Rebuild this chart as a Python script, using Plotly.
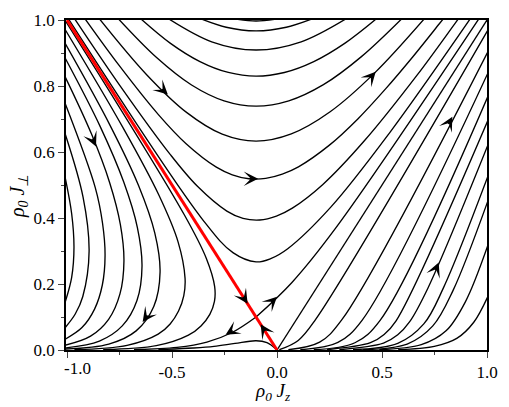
import plotly.graph_objects as go

# ---------------- data (rho0*Jz, rho0*Jperp) ----------------
# U-shaped flow lines above the separatrix (minimum near Jz = -0.1)
U_X = [
    [-1.000, -0.348, -0.210, -0.100, -0.030, 0.051, 0.256, 0.537, 0.927],
    [-0.982, -0.749, -0.508, -0.379, -0.239, -0.162, -0.082, -0.003, 0.073, 0.217, 0.416, 0.667, 0.848, 0.871],
    [-0.934, -0.753, -0.566, -0.433, -0.289, -0.213, -0.134, -0.054, 0.025, 0.102, 0.248, 0.386, 0.518, 0.646, 0.771, 0.800],
    [-0.854, -0.622, -0.431, -0.261, -0.100, 0.068, 0.253, 0.464, 0.710],
    [-0.765, -0.575, -0.407, -0.252, -0.100, 0.056, 0.221, 0.402, 0.604],
    [-0.660, -0.509, -0.367, -0.232, -0.100, 0.035, 0.175, 0.324, 0.485],
    [-0.532, -0.311, -0.100, 0.115, 0.345],
    [-0.388, -0.242, -0.100, 0.044, 0.194],
    [-0.260, -0.100, 0.062],
]
U_Y = [
    [1.010, 0.390, 0.295, 0.267, 0.277, 0.307, 0.433, 0.659, 1.010],
    [1.021, 0.802, 0.592, 0.496, 0.421, 0.399, 0.394, 0.406, 0.430, 0.501, 0.634, 0.833, 0.990, 1.010],
    [1.021, 0.863, 0.714, 0.625, 0.554, 0.531, 0.519, 0.520, 0.533, 0.555, 0.620, 0.701, 0.792, 0.888, 0.987, 1.010],
    [1.010, 0.835, 0.720, 0.654, 0.633, 0.655, 0.722, 0.839, 1.010],
    [1.010, 0.887, 0.803, 0.755, 0.739, 0.755, 0.804, 0.889, 1.010],
    [1.010, 0.930, 0.874, 0.841, 0.830, 0.841, 0.874, 0.930, 1.010],
    [1.010, 0.934, 0.909, 0.934, 1.010],
    [1.010, 0.978, 0.967, 0.978, 1.010],
    [1.010, 0.997, 1.010],
]

# flow lines left of the separatrix
L_X = [
    [-1.010, -0.978, -0.967, -0.978, -1.010],
    [-1.010, -0.924, -0.895, -0.925, -0.961, -1.010],
    [-1.010, -0.866, -0.831, -0.819, -0.832, -0.869, -0.929, -1.011],
    [-1.010, -0.884, -0.797, -0.746, -0.729, -0.748, -0.802, -0.888, -1.011],
    [-1.011, -0.842, -0.730, -0.665, -0.643, -0.667, -0.737, -0.846, -1.011],
    [-1.010, -0.797, -0.660, -0.582, -0.557, -0.587, -0.671, -0.801, -1.010],
    [-1.010, -0.733, -0.564, -0.471, -0.438, -0.444, -0.469, -0.509, -0.566, -0.714, -0.965],
    [-1.010, -0.441, -0.337, -0.297, -0.298, -0.320, -0.362, -0.422, -0.575, -0.828],
]
L_Y = [
    [0.526, 0.413, 0.311, 0.220, 0.143],
    [0.657, 0.464, 0.299, 0.162, 0.109, 0.067],
    [0.749, 0.493, 0.384, 0.286, 0.197, 0.124, 0.068, 0.032],
    [0.829, 0.655, 0.507, 0.380, 0.270, 0.170, 0.093, 0.042, 0.014],
    [0.887, 0.677, 0.509, 0.371, 0.254, 0.150, 0.073, 0.027, 0.006],
    [0.930, 0.683, 0.499, 0.354, 0.236, 0.132, 0.058, 0.018, 0.003],
    [0.972, 0.673, 0.471, 0.327, 0.217, 0.165, 0.118, 0.079, 0.048, 0.014, 0.001],
    [1.000, 0.409, 0.278, 0.192, 0.147, 0.108, 0.073, 0.045, 0.013, 0.001],
]

# flow lines right of the Jz = Jperp line (leave the axis, run to the right edge)
R_X = [
    [0.011, 0.101, 0.184, 1.010],
    [0.054, 0.203, 0.308, 1.010],
    [0.111, 0.290, 0.405, 1.010],
    [0.175, 0.371, 0.491, 1.010],
    [0.238, 0.445, 0.510, 0.567, 1.010],
    [0.297, 0.507, 0.575, 0.631, 0.719, 1.010],
    [0.362, 0.575, 0.699, 0.793, 1.010],
    [0.410, 0.620, 0.742, 0.838, 1.010],
    [0.487, 0.687, 0.805, 0.897, 1.010],
    [0.577, 0.749, 0.856, 0.937, 1.010],
]
R_Y = [
    [0.001, 0.029, 0.093, 0.976],
    [0.001, 0.024, 0.091, 0.911],
    [0.001, 0.023, 0.090, 0.847],
    [0.001, 0.022, 0.090, 0.777],
    [0.001, 0.022, 0.047, 0.088, 0.704],
    [0.001, 0.021, 0.046, 0.085, 0.188, 0.630],
    [0.001, 0.020, 0.079, 0.189, 0.536],
    [0.001, 0.018, 0.073, 0.180, 0.462],
    [0.001, 0.016, 0.058, 0.146, 0.328],
    [0.001, 0.011, 0.035, 0.084, 0.170],
]

# special lines: Jperp = Jz, the two unstable branches of the saddle, the small bump
DIAG_X = [0.0, 1.0]
DIAG_Y = [0.0, 1.0]
UNST_UP_X = [-0.100, 0.070, 0.280, 0.969]
UNST_UP_Y = [0.100, 0.204, 0.370, 1.011]
UNST_DN_X = [-0.100, -0.214, -0.334, -0.476, -0.681]
UNST_DN_Y = [0.100, 0.053, 0.024, 0.008, 0.001]
BUMP_X = [-0.002, -0.048, -0.100, -0.200, -0.300, -0.400, -0.565]
BUMP_Y = [0.001, 0.022, 0.028, 0.020, 0.011, 0.006, 0.001]

# separatrix (red)
SEP_X = [-1.0, 0.0]
SEP_Y = [1.0, 0.0]

# arrowheads: tip position and flow direction
ARROW_X = [-0.862, -0.520, -0.090, 0.470, 0.835, 0.770, -0.640, -0.140, -0.078, -0.245, 0.000]
ARROW_Y = [0.617, 0.774, 0.519, 0.843, 0.707, 0.265, 0.085, 0.140, 0.078, 0.046, 0.161]
ARROW_DX = [0.586, 0.857, 1.000, 0.820, 0.650, 0.550, -0.750, 0.707, -0.707, -0.930, 0.853]
ARROW_DY = [-0.810, -0.516, 0.000, 0.570, 0.760, 0.835, -0.660, -0.707, 0.707, -0.360, 0.522]

X_TICKS = [-1.0, -0.5, 0.0, 0.5, 1.0]
X_TICKTEXT = ["-1.0", "-0.5", "0.0", "0.5", "1.0"]
Y_TICKS = [0.0, 0.2, 0.4, 0.6, 0.8, 1.0]
Y_TICKTEXT = ["0.0", "0.2", "0.4", "0.6", "0.8", "1.0"]
X_TITLE = "<i>ρ</i><sub><i>0</i></sub><i> J</i><sub><i>z</i></sub>"
Y_TITLE = "<i>ρ</i><sub><i>0</i></sub><i> J</i><sub><i>⊥</i></sub>"

# ---------------- figure ----------------
SERIF = "Liberation Serif"
W, H = 509, 407
ML, MR, MT, MB = 66, 22, 20, 57
XR = [-1.005, 1.0]
YR = [0.0, 1.0]
PX_PER_X = (W - ML - MR) / (XR[1] - XR[0])
PX_PER_Y = (H - MT - MB) / (YR[1] - YR[0])

fig = go.Figure()
black = dict(color="black", width=1.35, shape="spline", smoothing=1.0)

def add_line(xs, ys, line):
    fig.add_trace(go.Scatter(x=xs, y=ys, mode="lines", line=line, showlegend=False, hoverinfo="skip"))

for xs, ys in zip(U_X, U_Y):
    add_line(xs, ys, black)
for xs, ys in zip(L_X, L_Y):
    add_line(xs, ys, black)
for xs, ys in zip(R_X, R_Y):
    add_line(xs, ys, black)
add_line(DIAG_X, DIAG_Y, dict(color="black", width=1.35))
add_line(UNST_UP_X, UNST_UP_Y, black)
add_line(UNST_DN_X, UNST_DN_Y, black)
add_line(BUMP_X, BUMP_Y, black)
add_line(SEP_X, SEP_Y, dict(color="#ff0000", width=3))

for x, y, dx, dy in zip(ARROW_X, ARROW_Y, ARROW_DX, ARROW_DY):
    sx, sy = dx * PX_PER_X, -dy * PX_PER_Y
    n = (sx * sx + sy * sy) ** 0.5
    sx, sy = sx / n, sy / n
    fig.add_annotation(x=x, y=y, xref="x", yref="y", ax=-10 * sx, ay=-10 * sy,
                       showarrow=True, arrowhead=3, arrowsize=1.85, arrowwidth=1.3,
                       arrowcolor="black", text="")

fig.update_layout(
    width=W, height=H, margin=dict(l=ML, r=MR, t=MT, b=MB),
    plot_bgcolor="white", paper_bgcolor="white",
    font=dict(family=SERIF, size=17, color="black"),
)
tickfont = dict(family=SERIF, size=17, color="black")
# the "-1.0" label sits a little to the right of its tick in the reference
fig.add_annotation(x=X_TICKS[0], y=0, xref="x", yref="paper", yanchor="top", xshift=10, yshift=-7,
                   text=X_TICKTEXT[0], showarrow=False, font=tickfont)
# axis titles
fig.add_annotation(x=0.5, y=0, xref="paper", yref="paper", xanchor="center", yanchor="middle",
                   xshift=-4, yshift=-42, text=X_TITLE, showarrow=False,
                   font=dict(family=SERIF, size=19, color="black"))
fig.add_annotation(x=0, y=0.5, xref="paper", yref="paper", xanchor="center", yanchor="middle",
                   xshift=-48, yshift=-11, textangle=-90, text=Y_TITLE, showarrow=False,
                   font=dict(family=SERIF, size=20, color="black"))
fig.update_xaxes(range=XR, tickvals=X_TICKS, ticktext=[""] + X_TICKTEXT[1:], tickfont=tickfont,
                 ticks="outside", ticklen=6, tickwidth=1.3, showline=True, linewidth=1.5, linecolor="black", mirror=True,
                 showgrid=False, zeroline=False,
                 minor=dict(tickvals=[-0.75, -0.25, 0.25, 0.75], ticks="outside", ticklen=3, tickwidth=1.3))
fig.update_yaxes(range=YR, tickvals=Y_TICKS, ticktext=Y_TICKTEXT, tickfont=tickfont,
                 ticks="outside", ticklen=6, tickwidth=1.3, showline=True, linewidth=1.5, linecolor="black", mirror=True,
                 showgrid=False, zeroline=False,
                 minor=dict(tickvals=[0.1, 0.3, 0.5, 0.7, 0.9], ticks="outside", ticklen=3, tickwidth=1.3))
fig.write_html("out.html")
